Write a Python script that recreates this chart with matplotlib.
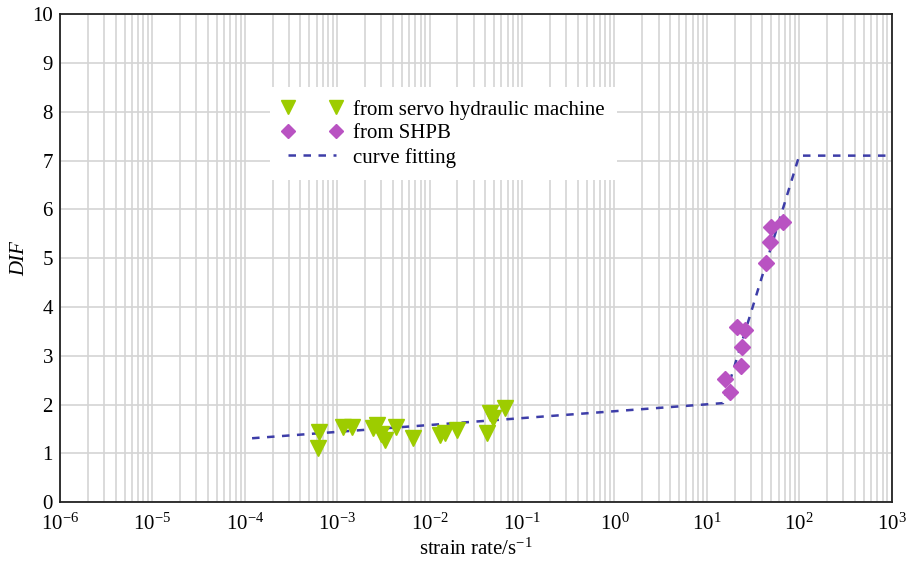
import numpy as np
import matplotlib
matplotlib.use("Agg")
import matplotlib.pyplot as plt
from matplotlib.ticker import LogLocator, FixedLocator, FixedFormatter

plt.rcParams['font.family'] = ['Liberation Serif', 'DejaVu Serif']
plt.rcParams['mathtext.fontset'] = 'custom'
plt.rcParams['mathtext.rm'] = 'Liberation Serif'
plt.rcParams['mathtext.it'] = 'Liberation Serif:italic'

# servo hydraulic machine tests
servo_rate = [6.2e-4, 6.4e-4, 1.15e-3, 1.45e-3, 2.45e-3, 2.7e-3, 3.0e-3, 3.3e-3,
              4.3e-3, 6.6e-3, 1.3e-2, 1.47e-2, 2.0e-2, 4.2e-2, 4.5e-2, 4.8e-2, 6.5e-2]
servo_dif = [1.11, 1.43, 1.54, 1.54, 1.52, 1.58, 1.40, 1.27,
             1.55, 1.31, 1.37, 1.41, 1.47, 1.41, 1.82, 1.72, 1.93]

# SHPB tests
shpb_rate = [66, 50, 48, 43.6, 21.4, 26, 24, 23.4, 15.8, 17.7]
shpb_dif = [5.74, 5.63, 5.33, 4.90, 3.59, 3.52, 3.18, 2.79, 2.52, 2.25]

# fitted curve
fit_rate = [1.2e-4, 15, 100, 1000]
fit_dif = [1.31, 2.03, 7.1, 7.1]

x_exp = list(range(-6, 4))
x_ticklabels = ['$10^{%d}$' % e for e in x_exp]
y_ticks = list(range(0, 11))

fig = plt.figure(figsize=(9.08, 5.63), dpi=100)
ax = fig.add_axes([0.066, 0.108, 0.916, 0.867])

ax.plot(servo_rate, servo_dif, linestyle='none', marker='v', markersize=12,
        color='#9dcc00', label='from servo hydraulic machine', zorder=3)
ax.plot(shpb_rate, shpb_dif, linestyle='none', marker='D', markersize=8.5,
        color='#b953c2', label='from SHPB', zorder=3)
ax.plot(fit_rate, fit_dif, linestyle=(0, (3, 3)), linewidth=1.8,
        color='#3d3da8', label='curve fitting', zorder=2)

ax.set_xscale('log')
ax.set_xlim(1e-6, 1e3)
ax.set_ylim(0, 10)
ax.yaxis.set_major_locator(FixedLocator(y_ticks))
ax.xaxis.set_major_locator(FixedLocator([10.0 ** e for e in x_exp]))
ax.xaxis.set_major_formatter(FixedFormatter(x_ticklabels))
ax.xaxis.set_minor_locator(LogLocator(base=10, subs=np.arange(2, 10), numticks=100))

ax.grid(True, which='both', axis='x', color='#d4d4d4', linewidth=1.2)
ax.grid(True, which='major', axis='y', color='#d4d4d4', linewidth=1.2)
ax.set_axisbelow(True)

ax.tick_params(which='both', length=0, labelsize=15, pad=5)
ax.tick_params(axis='x', pad=8)
for s in ax.spines.values():
    s.set_color('#222222')
    s.set_linewidth(1.3)

ax.set_xlabel('strain rate/s$^{-1}$', fontsize=15, labelpad=3)
ax.set_ylabel('DIF', fontsize=15, style='italic', labelpad=2)

leg = ax.legend(loc='upper left', bbox_to_anchor=(0.252, 0.85), borderaxespad=0,
                numpoints=2, fontsize=15, frameon=True, framealpha=1,
                edgecolor='none', facecolor='white', fancybox=False,
                markerscale=0.85, handlelength=2.9, handletextpad=0.5,
                labelspacing=0.2, borderpad=0.6)

fig.savefig('out.png', dpi=100)
